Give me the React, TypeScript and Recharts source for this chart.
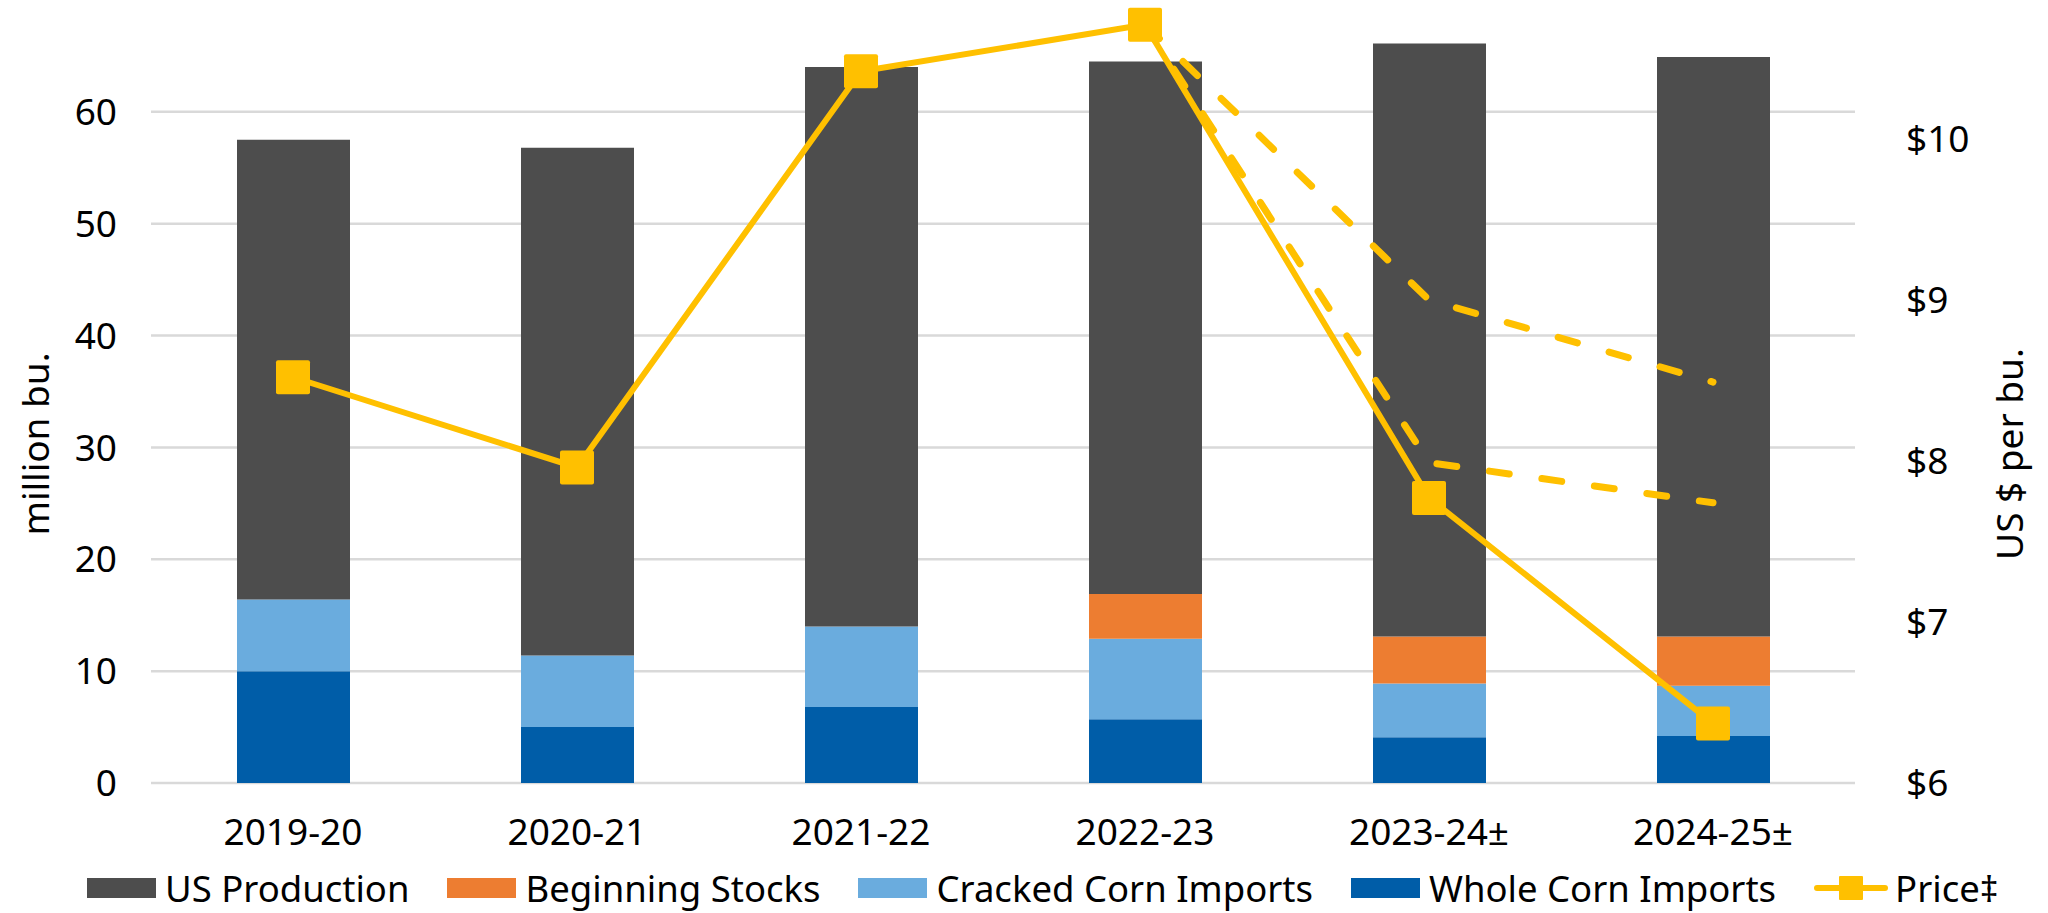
import {
  ComposedChart,
  Bar,
  Line,
  XAxis,
  YAxis,
  CartesianGrid,
  Legend,
} from "recharts";

const categories = ["2019-20", "2020-21", "2021-22", "2022-23", "2023-24±", "2024-25±"];
const wholeCornImports = [10.0, 5.0, 6.8, 5.7, 4.1, 4.2];
const crackedCornImports = [6.4, 6.4, 7.2, 7.2, 4.8, 4.5];
const beginningStocks = [0, 0, 0, 4.0, 4.2, 4.4];
const usProduction = [41.1, 45.4, 50.0, 47.6, 53.0, 51.8];
const price = [8.52, 7.96, 10.42, 10.71, 7.77, 6.37];
const priceHigh = [null, null, null, 10.71, 9.0, 8.49];
const priceLow = [null, null, null, 10.71, 7.99, 7.74];

const leftTicks = [0, 10, 20, 30, 40, 50, 60];
const rightTicks = [6, 7, 8, 9, 10];
const LEFT_MAX = 70;

const FONT = "'Noto Sans', 'Open Sans', sans-serif";
const GOLD = "#FFC000";

const data = categories.map((label, i) => ({
  label,
  whole: wholeCornImports[i],
  cracked: crackedCornImports[i],
  stocks: beginningStocks[i],
  production: usProduction[i],
  price: price[i],
  high: priceHigh[i],
  low: priceLow[i],
}));

const legendItems = [
  { name: "US Production", color: "#4D4D4D" },
  { name: "Beginning Stocks", color: "#ED7D31" },
  { name: "Cracked Corn Imports", color: "#6AACDE" },
  { name: "Whole Corn Imports", color: "#005DA8" },
];

const SquareDot = (props: any) => {
  const { cx, cy, index } = props;
  if (cx == null || cy == null) return <g key={index} />;
  return <rect key={index} x={cx - 17} y={cy - 17} width={34} height={34} rx={2} fill={GOLD} />;
};

const LegendContent = () => (
  <div
    style={{
      display: "flex",
      alignItems: "center",
      height: 44,
      paddingLeft: 87,
      fontFamily: FONT,
      fontSize: 36.5,
      color: "#000",
      whiteSpace: "nowrap",
    }}
  >
    {legendItems.map((it) => (
      <div key={it.name} style={{ display: "flex", alignItems: "center", marginRight: 38 }}>
        <div style={{ width: 69, height: 20, background: it.color, marginRight: 9 }} />
        <span>{it.name}</span>
      </div>
    ))}
    <div style={{ display: "flex", alignItems: "center" }}>
      <svg width={74} height={26} style={{ marginRight: 7 }}>
        <line x1={3} y1={13} x2={71} y2={13} stroke={GOLD} strokeWidth={6} strokeLinecap="round" />
        <rect x={25} y={1} width={24} height={24} rx={1} fill={GOLD} />
      </svg>
      <span>Price‡</span>
    </div>
  </div>
);

const LeftTitle = () => (
  <text
    x={36}
    y={444}
    transform="rotate(-90 36 444)"
    textAnchor="middle"
    dy="0.35em"
    fontFamily={FONT}
    fontSize={37}
    fill="#000"
  >
    million bu.
  </text>
);

const RightTitle = () => (
  <text
    x={2010}
    y={454}
    transform="rotate(-90 2010 454)"
    textAnchor="middle"
    dy="0.35em"
    fontFamily={FONT}
    fontSize={37}
    fill="#000"
  >
    US $ per bu.
  </text>
);

// gridlines only at the labelled values (nothing at the cut-off top)
const gridLines = (props: any) => {
  const top = props?.offset?.top ?? 0;
  const h = props?.offset?.height ?? 783;
  return leftTicks.map((v) => top + h * (1 - v / LEFT_MAX));
};

const App = () => {
  const tickStyle = { fontFamily: FONT, fontSize: 37, fill: "#000" };
  return (
    <div style={{ position: "absolute", left: 0, top: 0 }}>
      <ComposedChart
        width={2048}
        height={913}
        data={data}
        margin={{ top: 0, right: 0, bottom: 0, left: 0 }}
      >
        <CartesianGrid
          yAxisId="left"
          vertical={false}
          horizontalCoordinatesGenerator={gridLines}
          stroke="#D9D9D9"
          strokeWidth={2.5}
        />
        <XAxis
          dataKey="label"
          height={86}
          axisLine={false}
          tickLine={false}
          tickSize={0}
          tickMargin={36}
          tick={tickStyle}
          interval={0}
        />
        <YAxis
          yAxisId="left"
          width={151}
          domain={[0, LEFT_MAX]}
          ticks={leftTicks}
          axisLine={false}
          tickLine={false}
          tickSize={0}
          tickMargin={34}
          tick={tickStyle}
          label={<LeftTitle />}
        />
        <YAxis
          yAxisId="right"
          orientation="right"
          width={193}
          domain={[6, 10.863]}
          ticks={rightTicks}
          allowDataOverflow
          axisLine={false}
          tickLine={false}
          tickSize={0}
          tickMargin={51}
          tick={{ ...tickStyle, textAnchor: "start" }}
          tickFormatter={(v: number) => `$${v}`}
          label={<RightTitle />}
        />
        <Legend
          verticalAlign="bottom"
          content={<LegendContent />}
          wrapperStyle={{ left: 0, width: 2048, height: 44, top: 866 }}
        />
        <Bar yAxisId="left" dataKey="whole" stackId="s" fill="#005DA8" barSize={113} isAnimationActive={false} />
        <Bar yAxisId="left" dataKey="cracked" stackId="s" fill="#6AACDE" barSize={113} isAnimationActive={false} />
        <Bar yAxisId="left" dataKey="stocks" stackId="s" fill="#ED7D31" barSize={113} isAnimationActive={false} />
        <Bar yAxisId="left" dataKey="production" stackId="s" fill="#4D4D4D" barSize={113} isAnimationActive={false} />
        <Line
          yAxisId="right"
          dataKey="high"
          stroke={GOLD}
          strokeWidth={7}
          strokeDasharray="20 33"
          strokeLinecap="round"
          dot={false}
          activeDot={false}
          isAnimationActive={false}
        />
        <Line
          yAxisId="right"
          dataKey="low"
          stroke={GOLD}
          strokeWidth={7}
          strokeDasharray="20 33"
          strokeLinecap="round"
          dot={false}
          activeDot={false}
          isAnimationActive={false}
        />
        <Line
          yAxisId="right"
          dataKey="price"
          stroke={GOLD}
          strokeWidth={6}
          dot={<SquareDot />}
          activeDot={false}
          isAnimationActive={false}
        />
      </ComposedChart>
    </div>
  );
};

export default App;
